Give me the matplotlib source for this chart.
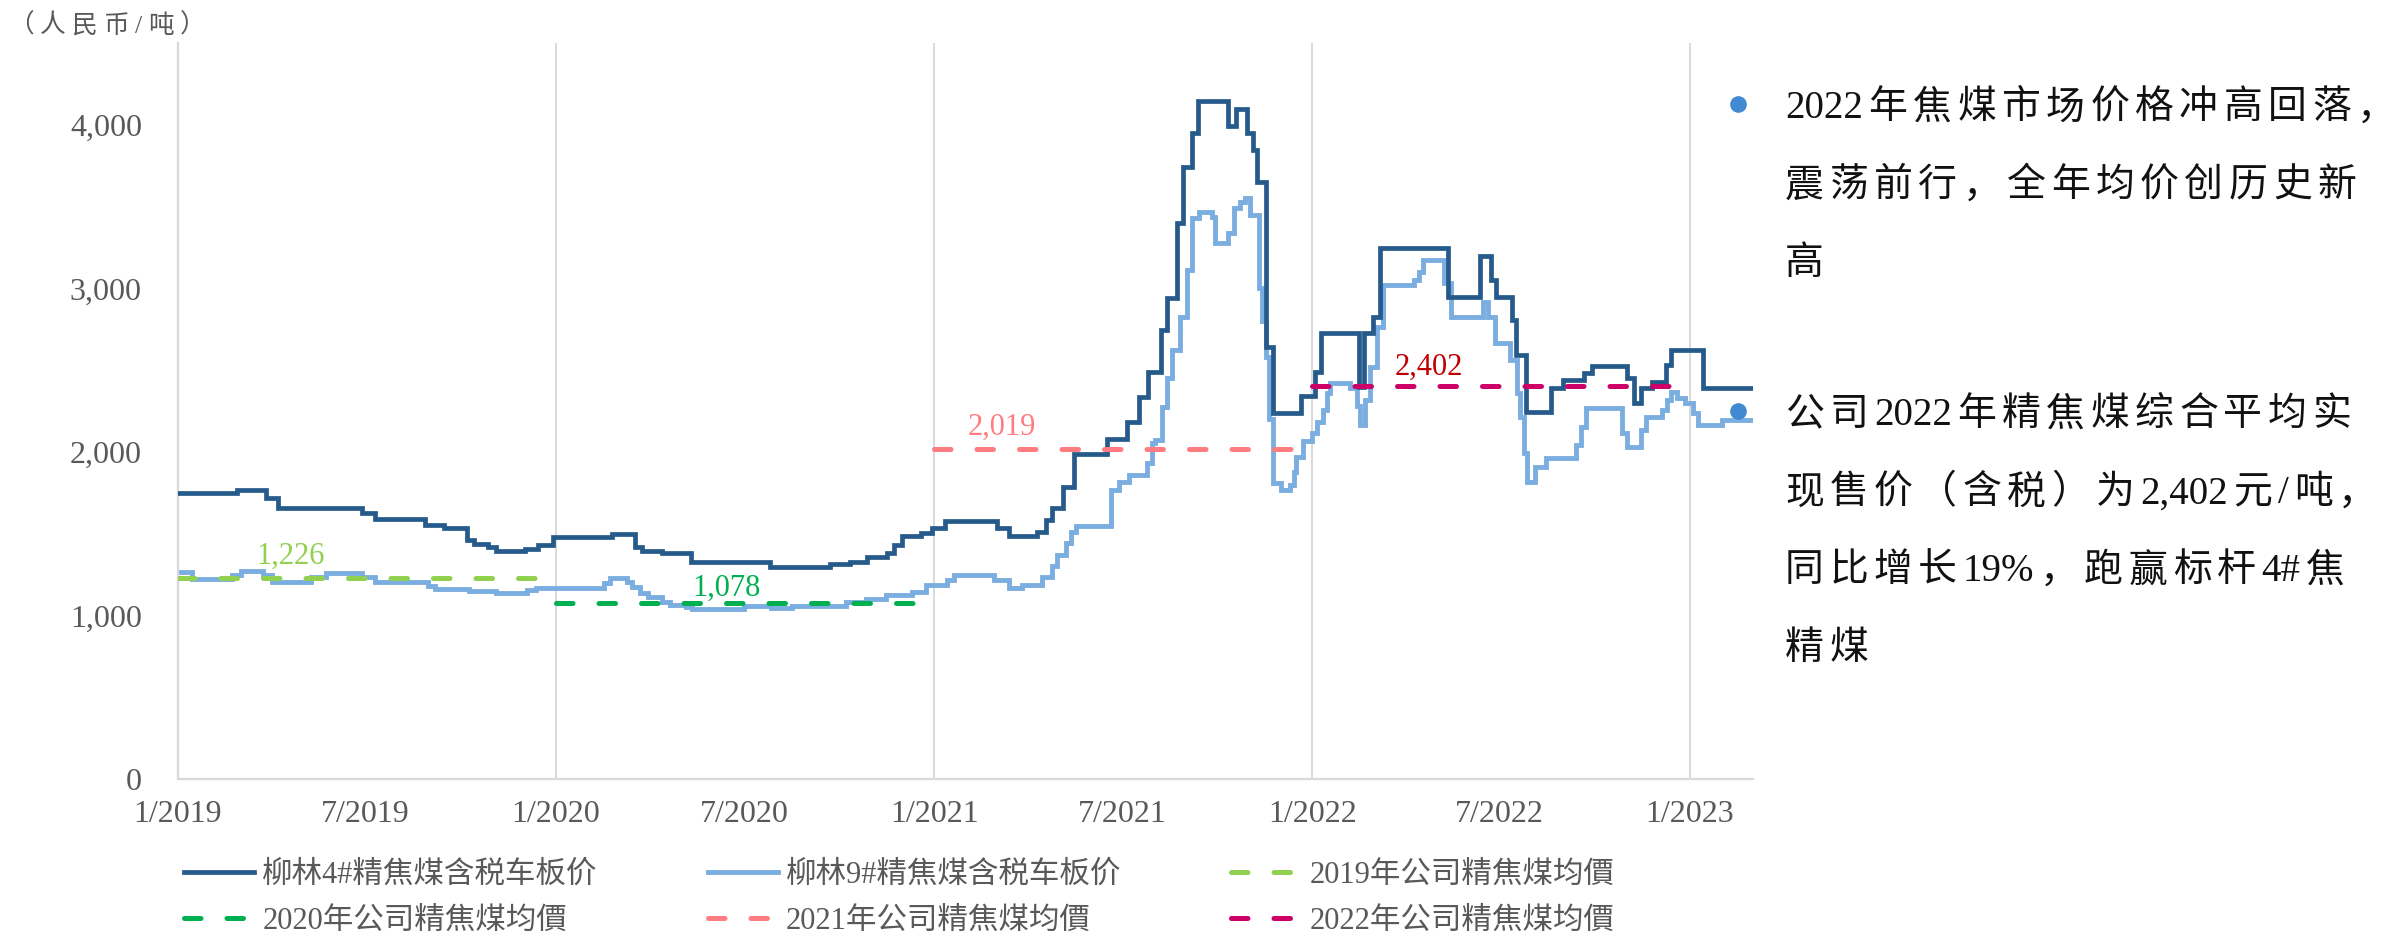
import re
import matplotlib
matplotlib.use("Agg")
import matplotlib.pyplot as plt
from matplotlib.lines import Line2D
import numpy as np

# ---------------- data ----------------
lin4_dates = ['2019-01-01','2019-02-27','2019-03-27','2019-04-08','2019-06-28','2019-07-10','2019-08-28','2019-09-15',
              '2019-10-07','2019-10-14','2019-10-28','2019-11-04','2019-12-02','2019-12-15','2019-12-29','2020-02-24',
              '2020-03-18','2020-03-24','2020-04-13','2020-05-11','2020-07-26','2020-09-22','2020-10-11','2020-10-28',
              '2020-11-16','2020-11-23','2020-12-01','2020-12-19','2020-12-30','2021-01-11','2021-03-02','2021-03-14',
              '2021-04-10','2021-04-19','2021-04-25','2021-05-05','2021-05-16','2021-06-17','2021-07-06','2021-07-18',
              '2021-07-26','2021-08-08','2021-08-14','2021-08-23','2021-08-29','2021-09-07','2021-09-13','2021-10-12',
              '2021-10-19','2021-10-30','2021-11-05','2021-11-09','2021-11-17','2021-11-24','2021-12-21','2022-01-04',
              '2022-01-10','2022-02-15','2022-02-20','2022-03-01','2022-03-08','2022-05-12','2022-06-12','2022-06-23',
              '2022-06-28','2022-07-13','2022-07-17','2022-07-27','2022-08-20','2022-08-31','2022-09-21','2022-09-28',
              '2022-11-01','2022-11-08','2022-11-15','2022-11-25','2022-12-09','2022-12-14','2023-01-14','2023-03-03']
lin4_vals = [1750,1770,1720,1655,1625,1590,1555,1535,1460,1437,1418,1396,1406,1431,1480,1498,
             1420,1396,1382,1325,1297,1315,1327,1358,1382,1431,1486,1505,1535,1575,1535,1486,
             1511,1584,1657,1786,1988,2080,2184,2336,2489,2746,2942,3400,3743,3951,4147,3994,
             4098,3951,3847,3651,2642,2240,2340,2490,2725,2395,2728,2826,3248,2945,3195,3052,
             2948,2807,2593,2245,2391,2440,2483,2526,2452,2300,2391,2428,2532,2624,2391,2391]

lin9_dates = ['2019-01-01','2019-01-15','2019-02-22','2019-03-03','2019-03-24','2019-04-02','2019-05-10','2019-05-24',
              '2019-06-28','2019-07-10','2019-08-31','2019-09-06','2019-10-09','2019-11-04','2019-12-04','2019-12-13',
              '2020-02-17','2020-02-22','2020-03-10','2020-03-15','2020-03-22','2020-03-30','2020-04-13','2020-04-20',
              '2020-05-06','2020-05-12','2020-07-01','2020-07-27','2020-08-16','2020-10-08','2020-10-27','2020-11-15',
              '2020-12-10','2020-12-24','2021-01-13','2021-01-20','2021-02-28','2021-03-14','2021-03-27','2021-04-15',
              '2021-04-25','2021-04-29','2021-05-08','2021-05-13','2021-05-18','2021-06-21','2021-06-28','2021-07-08',
              '2021-07-25','2021-07-30','2021-08-02','2021-08-09','2021-08-14','2021-08-19','2021-08-26','2021-09-02',
              '2021-09-07','2021-09-14','2021-09-26','2021-09-29','2021-10-12','2021-10-17','2021-10-23','2021-10-28',
              '2021-11-02','2021-11-11','2021-11-14','2021-11-17','2021-11-20','2021-11-24','2021-12-02','2021-12-11',
              '2021-12-14','2021-12-16','2021-12-23','2022-01-01','2022-01-06','2022-01-11','2022-01-15','2022-01-18',
              '2022-02-07','2022-02-13','2022-02-16','2022-02-21','2022-02-26','2022-03-05','2022-03-10','2022-04-09',
              '2022-04-14','2022-04-18','2022-05-08','2022-05-15','2022-06-15','2022-06-20','2022-06-27','2022-07-11',
              '2022-07-18','2022-07-21','2022-07-25','2022-07-28','2022-08-04','2022-08-15','2022-09-13','2022-09-18',
              '2022-09-23','2022-10-27','2022-11-01','2022-11-15','2022-11-20','2022-12-05','2022-12-10','2022-12-14',
              '2022-12-20','2022-12-27','2023-01-04','2023-01-09','2023-02-01','2023-03-03']
lin9_vals = [1266,1223,1248,1272,1248,1205,1235,1260,1235,1205,1180,1162,1150,1138,1156,1170,
             1199,1229,1205,1174,1138,1113,1083,1064,1052,1040,1058,1046,1058,1083,1101,1125,
             1144,1187,1217,1245,1217,1168,1187,1235,1300,1370,1440,1511,1547,1768,1816,1859,
             1933,2055,2073,2275,2450,2624,2826,3113,3431,3468,3437,3278,3340,3492,3529,3553,
             3450,3000,2800,2580,2200,1810,1768,1800,1880,1969,2067,2116,2184,2257,2361,2420,
             2391,2280,2165,2318,2520,2765,3021,3052,3101,3174,3034,2826,2918,2826,2667,2563,
             2361,2214,1994,1816,1908,1963,2043,2153,2269,2116,2031,2135,2214,2257,2318,2367,
             2330,2300,2239,2165,2196,2196]

avg_years = [2019, 2020, 2021, 2022]
avg_vals = [1226, 1078, 2019, 2402]
avg_labels = ['2019年公司精焦煤均價', '2020年公司精焦煤均價', '2021年公司精焦煤均價', '2022年公司精焦煤均價']
series_labels = ['柳林4#精焦煤含税车板价', '柳林9#精焦煤含税车板价']

xtick_dates = ['2019-01-01','2019-07-01','2020-01-01','2020-07-01','2021-01-01','2021-07-01',
               '2022-01-01','2022-07-01','2023-01-01']
xtick_labels = ['1/2019','7/2019','1/2020','7/2020','1/2021','7/2021','1/2022','7/2022','1/2023']
ytick_vals = [0, 1000, 2000, 3000, 4000]

note1 = ['2022年焦煤市场价格冲高回落，', '震荡前行，全年均价创历史新', '高']
note2 = ['公司2022年精焦煤综合平均实', '现售价（含税）为2,402元/吨，', '同比增长19%，跑赢标杆4#焦', '精煤']
unit_label = '（人民币/吨）'

# ---------------- styles ----------------
C4 = '#265A8A'
C9 = '#7BAEE0'
AVG_COLORS = ['#92D050', '#00B050', '#FF7C80', '#CC0066']
LABEL_COLORS = ['#92D050', '#00B050', '#FF7C80', '#C00000']
GRAY = '#595959'
GRID = '#D9D9D9'
FAM = ['Liberation Serif', 'Noto Sans CJK SC', 'DejaVu Sans']

W, H = 2407, 939
fig = plt.figure(figsize=(W / 100, H / 100), dpi=100)
ax = fig.add_axes([178 / W, 1 - 779 / H, (1753 - 178) / W, (779 - 43) / H])

d4 = np.array(lin4_dates, dtype='datetime64[D]')
d9 = np.array(lin9_dates, dtype='datetime64[D]')

l4, = ax.plot(d4, lin4_vals, drawstyle='steps-post', color=C4, lw=3.4, solid_joinstyle='miter', zorder=3)
l9, = ax.plot(d9, lin9_vals, drawstyle='steps-post', color=C9, lw=3.5, solid_joinstyle='miter', zorder=2)

avg_handles = []
for yr, v, c in zip(avg_years, avg_vals, AVG_COLORS):
    xs = np.array([f'{yr}-01-01', f'{yr}-12-31'], dtype='datetime64[D]')
    h, = ax.plot(xs, [v, v], color=c, lw=3.6, dashes=(3.3, 5.2), dash_capstyle='round', zorder=4)
    avg_handles.append(h)

# value labels
label_pos = [('2019-04-20', 1364), ('2020-06-14', 1168), ('2021-03-07', 2153), ('2022-04-24', 2514)]
for (dx, vy), v, c in zip(label_pos, avg_vals, LABEL_COLORS):
    ax.text(np.datetime64(dx), vy, f'{v:,}', color=c, fontsize=22, family=FAM,
            ha='center', va='center', zorder=5)

# axes formatting
ax.set_ylim(0, 4500)
ax.set_xlim(np.datetime64('2019-01-01'), np.datetime64('2023-03-03'))
ax.set_xticks(np.array(xtick_dates, dtype='datetime64[D]'))
ax.set_xticklabels(xtick_labels)
ax.set_yticks(ytick_vals)
ax.set_yticklabels([f'{v:,}' for v in ytick_vals])
ax.tick_params(axis='both', length=0, labelsize=23, labelcolor=GRAY)
ax.tick_params(axis='x', pad=15)
ax.tick_params(axis='y', pad=26)
for lab in ax.get_xticklabels() + ax.get_yticklabels():
    lab.set_family(FAM)
for s in ['top', 'right']:
    ax.spines[s].set_visible(False)
for s in ['left', 'bottom']:
    ax.spines[s].set_color(GRID)
    ax.spines[s].set_linewidth(1.6)
for yr in [2020, 2021, 2022, 2023]:
    ax.axvline(np.datetime64(f'{yr}-01-01'), color=GRID, lw=1.4, zorder=1)

# legend (row-major layout via column-major ordering)
handles = [l4, avg_handles[1], l9, avg_handles[2], avg_handles[0], avg_handles[3]]
labels = [series_labels[0], avg_labels[1], series_labels[1], avg_labels[2], avg_labels[0], avg_labels[3]]
leg = fig.legend(handles, labels, ncol=3, loc='upper left', bbox_to_anchor=(184 / W, 1 - 861 / H),
                 frameon=False, borderpad=0, borderaxespad=0, handlelength=2.3, handletextpad=0.26,
                 columnspacing=3.6, labelspacing=0.55, prop={'family': FAM, 'size': 22})
for t in leg.get_texts():
    t.set_color(GRAY)

# ---------------- tracked text helper ----------------
renderer = fig.canvas.get_renderer()


def tracked_text(x_px, y_center_px, s, size, tracking_px, color):
    em = size * 100 / 72
    base = y_center_px + 0.37 * em
    x = x_px
    for tok in re.findall(r'[\x00-\x7f]+|.', s):
        t = fig.text(x / W, 1 - base / H, tok, fontsize=size, family=FAM, color=color,
                     ha='left', va='baseline')
        w = t.get_window_extent(renderer).width
        x += w + tracking_px


tracked_text(8, 23, unit_label, 18.5, 6, GRAY)

for i, line in enumerate(note1):
    tracked_text(1785, 104 + 78 * i, line, 28, 5.5, '#111111')
for i, line in enumerate(note2):
    tracked_text(1785, 411 + 78 * i, line, 28, 5.5, '#111111')

for yb in [104, 411]:
    fig.add_artist(Line2D([1738 / W], [1 - yb / H], marker='o', markersize=12, color='#4189D0',
                          markeredgewidth=0, transform=fig.transFigure))

fig.savefig('out.png', dpi=100)
